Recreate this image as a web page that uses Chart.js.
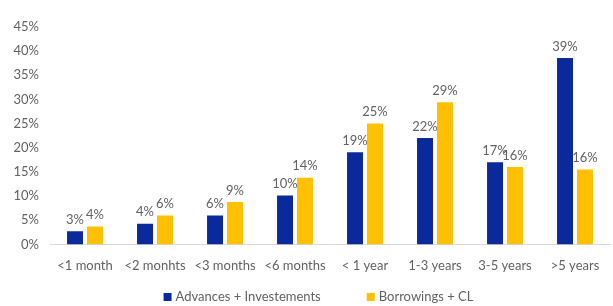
<!DOCTYPE html>
<html>
<head>
<meta charset="utf-8">
<script src="https://cdn.jsdelivr.net/npm/chart.js@4"></script>
<style>
  html, body { margin: 0; padding: 0; background: #fff; }
  #wrap { width: 613px; height: 306px; }
</style>
</head>
<body>
<div id="wrap"><canvas id="chart"></canvas></div>
<script>
// buckets de maturidade
var labels = ['<1 month', '<2 monhts', '<3 months', '<6 months', '< 1 year', '1-3 years', '3-5 years', '>5 years'];
var advances = [2.7, 4.3, 6.0, 10.1, 19.1, 22.0, 17.0, 38.6];
var borrowings = [3.7, 6.0, 8.8, 13.8, 25.0, 29.4, 16.0, 15.5];
var yTicks = [0, 5, 10, 15, 20, 25, 30, 35, 40, 45];

var grey = '#626262';
var font = '13px Lato';

// rotulos em cima das barras
var barLabels = {
    id: 'barLabels',
    afterDatasetsDraw: function(chart) {
        var ctx = chart.ctx;
        ctx.save();
        ctx.font = font;
        ctx.fillStyle = grey;
        ctx.textAlign = 'center';
        ctx.textBaseline = 'bottom';
        chart.data.datasets.forEach(function(ds, i) {
            chart.getDatasetMeta(i).data.forEach(function(bar, j) {
                ctx.fillText(Math.round(ds.data[j]) + '%', bar.x, bar.y - 5);
            });
        });
        ctx.restore();
    }
};

// legenda desenhada na mao (espaco entre itens maior)
var bottomLegend = {
    id: 'bottomLegend',
    afterDraw: function(chart) {
        var ctx = chart.ctx;
        var ds = chart.data.datasets;
        var box = 8, gapText = 4, gapItem = 46;
        ctx.save();
        ctx.font = font;
        var total = 0;
        ds.forEach(function(d, i) {
            total += box + gapText + ctx.measureText(d.label).width;
            if (i < ds.length - 1) total += gapItem;
        });
        var x = chart.width / 2 + 12 - total / 2;
        var y = 297;
        ctx.textBaseline = 'middle';
        ds.forEach(function(d) {
            ctx.fillStyle = d.backgroundColor;
            ctx.fillRect(x, y - box / 2, box, box);
            x += box + gapText;
            ctx.fillStyle = grey;
            ctx.fillText(d.label, x, y);
            x += ctx.measureText(d.label).width + gapItem;
        });
        ctx.restore();
    }
};

var ctx = document.getElementById('chart').getContext('2d');
var myChart = new Chart(ctx, {
    type: 'bar',
    data: {
        labels: labels,
        datasets: [{
            label: 'Advances + Investements',
            data: advances,
            backgroundColor: '#0A2A9C',
            categoryPercentage: 0.57,
            barPercentage: 0.8
        }, {
            label: 'Borrowings + CL',
            data: borrowings,
            backgroundColor: '#FFC000',
            categoryPercentage: 0.57,
            barPercentage: 0.8
        }]
    },
    plugins: [barLabels, bottomLegend],
    options: {
        responsive: true,
        maintainAspectRatio: false,
        animation: false,
        layout: { padding: { left: 6, right: 3, top: 27, bottom: 26 } },
        plugins: {
            legend: { display: false },
            tooltip: { enabled: false }
        },
        scales: {
            x: {
                grid: { display: false },
                border: { display: true, color: '#d9d9d9' },
                ticks: { color: grey, font: { family: 'Lato', size: 13 }, maxRotation: 0, padding: 6 }
            },
            y: {
                min: 0,
                max: 45,
                afterBuildTicks: function(axis) {
                    axis.ticks = yTicks.map(function(v) { return { value: v }; });
                },
                afterFit: function(axis) { axis.width = 44; },
                grid: { display: false },
                border: { display: false },
                ticks: {
                    color: grey,
                    font: { family: 'Lato', size: 13 },
                    callback: function(v) { return v + '%'; }
                }
            }
        }
    }
});
</script>
</body>
</html>
